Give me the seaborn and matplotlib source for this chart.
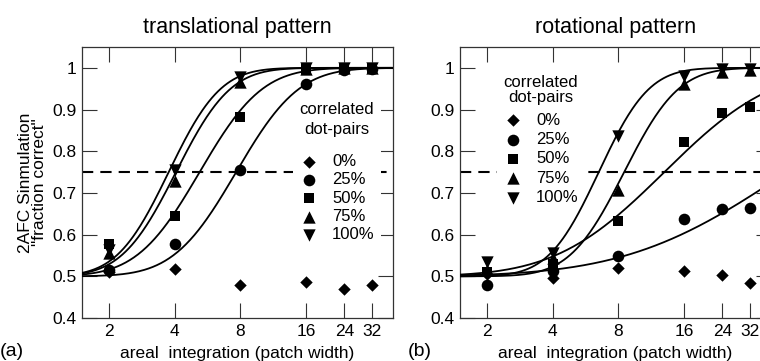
import math
import numpy as np
import pandas as pd
import matplotlib
matplotlib.use("Agg")
import matplotlib.pyplot as plt
import seaborn as sns
from matplotlib.ticker import FixedLocator, FixedFormatter, NullLocator

# ---------------- data ----------------
patch_widths = [2, 4, 8, 16, 24, 32]
x_tick_labels = ["2", "4", "8", "16", "24", "32"]
y_ticks = [0.4, 0.5, 0.6, 0.7, 0.8, 0.9, 1.0]
y_tick_labels = ["0.4", "0.5", "0.6", "0.7", "0.8", "0.9", "1"]
series_labels = ["0%", "25%", "50%", "75%", "100%"]
series_markers = ["D", "o", "s", "^", "v"]
marker_areas = [40, 70, 55, 79, 79]

# translational pattern (panel a)
trans_0 = [0.510, 0.518, 0.479, 0.487, 0.469, 0.479]
trans_25 = [0.515, 0.578, 0.756, 0.961, 0.995, 0.998]
trans_50 = [0.578, 0.645, 0.882, 0.998, 1.000, 1.000]
trans_75 = [0.555, 0.728, 0.965, 0.998, 1.000, 1.000]
trans_100 = [0.563, 0.755, 0.977, 0.999, 1.000, 1.000]

# rotational pattern (panel b)
rot_0 = [0.505, 0.497, 0.519, 0.512, 0.504, 0.485]
rot_25 = [0.480, 0.512, 0.549, 0.638, 0.661, 0.663]
rot_50 = [0.510, 0.530, 0.633, 0.823, 0.892, 0.905]
rot_75 = [0.515, 0.545, 0.707, 0.962, 0.990, 0.995]
rot_100 = [0.535, 0.555, 0.836, 0.980, 0.998, 0.998]

# fitted psychometric curves (for 25%, 50%, 75%, 100%):
# patch width at 75% correct, and spread in octaves
trans_thresholds = [7.65, 5.2, 4.05, 3.75]
trans_spreads = [0.75, 0.75, 0.65, 0.62]
rot_thresholds = [47.6, 13.0, 8.5, 6.5]
rot_spreads = [1.92, 1.30, 0.65, 0.60]

criterion = 0.75

# ---------------- style ----------------
sns.set_theme(style="ticks")
plt.rcParams["font.family"] = ["Liberation Sans", "DejaVu Sans"]
plt.rcParams["axes.edgecolor"] = "#333333"
plt.rcParams["axes.linewidth"] = 0.9
plt.rcParams["text.color"] = "black"
plt.rcParams["axes.labelcolor"] = "black"
plt.rcParams["xtick.color"] = "#333333"
plt.rcParams["ytick.color"] = "#333333"
plt.rcParams["xtick.labelcolor"] = "black"
plt.rcParams["ytick.labelcolor"] = "black"

fig = plt.figure(figsize=(7.6, 3.61), dpi=100)
ax_w = 0.4088
ax_h = 0.7507
ax_a = fig.add_axes([0.1079, 0.1191, ax_w, ax_h])
ax_b = fig.add_axes([0.6053, 0.1191, ax_w, ax_h])

_erf = np.vectorize(math.erf)


def psychometric(x, threshold, spread):
    z = (np.log2(x) - np.log2(threshold)) / spread
    return 0.5 + 0.25 * (1.0 + _erf(z / math.sqrt(2.0)))


def draw_panel(ax, values, thresholds, spreads, title, legend_anchor,
               labelspacing, title_linespacing, title_sep):
    ax.set_xscale("log", base=2)
    ax.set_xlim(1.5, 40)
    ax.set_ylim(0.4, 1.05)

    xs = np.geomspace(1.5, 40, 300)
    for th, sp in zip(thresholds, spreads):
        sns.lineplot(x=xs, y=psychometric(xs, th, sp), color="black",
                     lw=1.3, ax=ax, zorder=6, legend=False)

    ax.axhline(criterion, color="black", lw=1.5, ls=(0, (5.4, 3.4)), zorder=1)

    for vals, lab, mk, area in zip(values, series_labels, series_markers, marker_areas):
        df = pd.DataFrame({"w": patch_widths, "p": vals})
        sns.scatterplot(data=df, x="w", y="p", marker=mk, s=area, color="black",
                        linewidth=0, ax=ax, label=lab, zorder=7)

    ax.xaxis.set_major_locator(FixedLocator(patch_widths))
    ax.xaxis.set_major_formatter(FixedFormatter(x_tick_labels))
    ax.xaxis.set_minor_locator(NullLocator())
    ax.yaxis.set_major_locator(FixedLocator(y_ticks))
    ax.yaxis.set_major_formatter(FixedFormatter(y_tick_labels))
    ax.yaxis.set_minor_locator(NullLocator())
    ax.tick_params(direction="in", length=10.8, width=0.8, top=True, right=True,
                   labelsize=12.5, pad=4)
    ax.set_xlabel("areal  integration (patch width)", fontsize=12.5, labelpad=5)
    ax.set_ylabel("")
    ax.set_title(title, fontsize=15.5, pad=10)

    leg = ax.legend(title="correlated\ndot-pairs", loc="upper left",
                    bbox_to_anchor=legend_anchor, frameon=True, fancybox=False,
                    facecolor="white", edgecolor="none", framealpha=1.0,
                    fontsize=12, title_fontsize=12, borderpad=0.35,
                    handlelength=1.2, handletextpad=0.8,
                    labelspacing=labelspacing, borderaxespad=0)
    leg.get_frame().set_linewidth(0)
    leg.get_title().set_linespacing(title_linespacing)
    leg.get_title().set_multialignment("center")
    leg._legend_box.sep = title_sep
    leg.set_zorder(5)
    return leg


draw_panel(ax_a, [trans_0, trans_25, trans_50, trans_75, trans_100],
           trans_thresholds, trans_spreads, "translational pattern",
           (0.679, 0.819), 0.2, 1.4, 12.4)
draw_panel(ax_b, [rot_0, rot_25, rot_50, rot_75, rot_100],
           rot_thresholds, rot_spreads, "rotational pattern",
           (0.119, 0.92), 0.26, 1.02, 5.8)

ax_a.set_ylabel('2AFC Sinmulation\n"fraction correct"', fontsize=12.5,
                linespacing=0.9, labelpad=4)

fig.text(0.0, 0.025, "(a)", fontsize=14, ha="left", va="center")
fig.text(0.537, 0.025, "(b)", fontsize=14, ha="left", va="center")

fig.savefig("out.png", dpi=100)
